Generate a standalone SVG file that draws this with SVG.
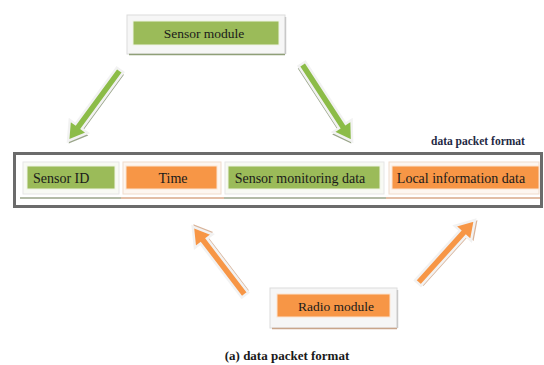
<svg xmlns="http://www.w3.org/2000/svg" width="544" height="365" viewBox="0 0 544 365">
<defs>
<style>
text{font-family:"Liberation Serif","DejaVu Serif",serif;fill:#1a1a1a;font-size:13.5px}
.lbl{text-anchor:middle}
.frm{fill:#f6f6f6;stroke:#dcdcdc;stroke-width:1}
.g{fill:#9bbb59;stroke:#eef3e4;stroke-width:1}
.o{fill:#f79646;stroke:#fbe3d0;stroke-width:1}
.ga{fill:#8cbc48;stroke:#f2f2f2;stroke-width:2.5;stroke-linejoin:miter}
.oa{fill:#f79646;stroke:#f2f2f2;stroke-width:2.5;stroke-linejoin:miter}
.gs{fill:#9aa58a}
.os{fill:#d9b49a}
.fld{font-size:14px}
</style>
</defs>
<rect width="544" height="365" fill="#ffffff"/>

<g id="connectors">
  <g transform="translate(120,70) rotate(126.2)">
    <path class="gs" transform="translate(1.5,-2)" d="M0,-4 L70,-4 L70,-11 L88,0 L70,11 L70,4 L0,4 Z"/>
    <path class="ga" d="M0,-4 L70,-4 L70,-11 L88,0 L70,11 L70,4 L0,4 Z"/>
  </g>
  <g transform="translate(302,64) rotate(57)">
    <path class="gs" transform="translate(1.5,2)" d="M0,-4 L74,-4 L74,-11 L92,0 L74,11 L74,4 L0,4 Z"/>
    <path class="ga" d="M0,-4 L74,-4 L74,-11 L92,0 L74,11 L74,4 L0,4 Z"/>
  </g>
  <g transform="translate(245,295) rotate(-127.4)">
    <path class="os" transform="translate(1.5,2)" d="M0,-4 L68,-4 L68,-11 L86,0 L68,11 L68,4 L0,4 Z"/>
    <path class="oa" d="M0,-4 L68,-4 L68,-11 L86,0 L68,11 L68,4 L0,4 Z"/>
  </g>
  <g transform="translate(418,283) rotate(-47.9)">
    <path class="os" transform="translate(1.5,2)" d="M0,-4 L67,-4 L67,-11 L85,0 L67,11 L67,4 L0,4 Z"/>
    <path class="oa" d="M0,-4 L67,-4 L67,-11 L85,0 L67,11 L67,4 L0,4 Z"/>
  </g>
</g>

<g id="sensor-module">
  <rect x="127" y="15" width="158" height="39" class="frm"/>
  <line x1="129" y1="54.5" x2="285" y2="54.5" stroke="#8f9f78" stroke-width="1.5"/>
  <line x1="285.5" y1="17" x2="285.5" y2="54" stroke="#c8c8c8" stroke-width="1.5"/>
  <rect x="133" y="21" width="146" height="24" class="g"/>
  <text x="204" y="38" class="lbl">Sensor module</text>
</g>

<g id="packet">
  <rect x="14.5" y="153.5" width="527" height="53" fill="#ffffff" stroke="#6b6b6b" stroke-width="3"/>
  <g id="f-sensor-id">
    <rect x="23" y="162" width="96" height="32" fill="#f8faf4" stroke="#e6e6e6"/>
    <rect x="27" y="166" width="88" height="23" class="g"/>
    <line x1="20" y1="198" x2="121" y2="198" stroke="#9aa58a" stroke-width="1.5"/>
    <text x="33" y="182.5" class="fld">Sensor ID</text>
  </g>
  <g id="f-time">
    <rect x="123" y="162" width="98" height="32" fill="#fdf6f0" stroke="#f0dccc"/>
    <rect x="126" y="166" width="91" height="23" class="o"/>
    <line x1="121" y1="198" x2="224" y2="198" stroke="#d9a888" stroke-width="1.5"/>
    <text x="173" y="182.5" class="lbl fld">Time</text>
  </g>
  <g id="f-monitoring">
    <rect x="225" y="162" width="159" height="32" fill="#f8faf4" stroke="#e6e6e6"/>
    <rect x="228" y="166" width="152" height="23" class="g"/>
    <line x1="224" y1="198" x2="386" y2="198" stroke="#9aa58a" stroke-width="1.5"/>
    <text x="300" y="182.5" class="lbl fld">Sensor monitoring data</text>
  </g>
  <g id="f-local">
    <rect x="389" y="162" width="150" height="32" fill="#fdf6f0" stroke="#f0dccc"/>
    <rect x="392" y="166" width="147" height="23" class="o"/>
    <line x1="386" y1="198" x2="540" y2="198" stroke="#d9a888" stroke-width="1.5"/>
    <text x="461" y="182.5" class="lbl fld">Local information data</text>
  </g>
</g>

<text x="431" y="145" style="font-size:11.5px;font-weight:bold;fill:#1f2a44">data packet  format</text>

<g id="radio-module">
  <rect x="270" y="288" width="127" height="40" class="frm"/>
  <line x1="272" y1="328.5" x2="397" y2="328.5" stroke="#c9a58a" stroke-width="1.5"/>
  <line x1="397.5" y1="290" x2="397.5" y2="328" stroke="#c8c8c8" stroke-width="1.5"/>
  <rect x="277" y="294" width="113" height="23" class="o"/>
  <text x="336" y="310.5" class="lbl">Radio module</text>
</g>

<text x="287" y="360" class="lbl" style="font-size:13px;font-weight:bold">(a) data packet  format</text>
</svg>
